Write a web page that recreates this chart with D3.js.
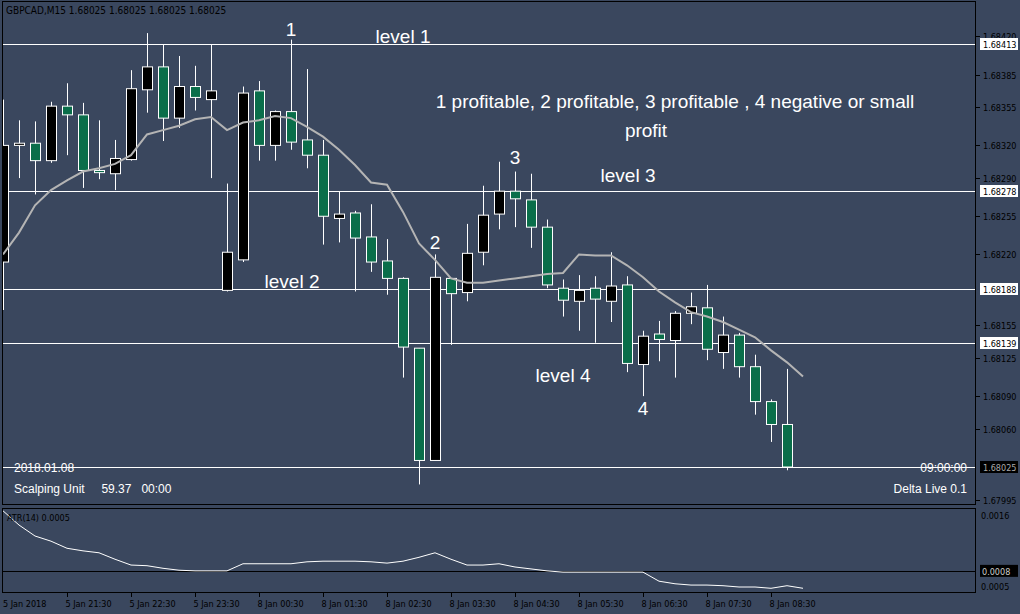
<!DOCTYPE html>
<html>
<head>
<meta charset="utf-8">
<script src="https://cdn.jsdelivr.net/npm/d3@7"></script>
<style>
body{margin:0;background:#3a475e;}
svg{display:block;}
</style>
</head>
<body>
<div id="chart"></div>
<script>
// prices in pipettes above 1.68000
var opens  = [213,320,322,306,356,348,297,294,307,371,392,345,374,362,187,215,370,320,351,325,311,253,258,236,214,198,134,31,198,185,222,257,278,270,245,189,177,189,177,192,119,147,141,166,171,130,146,117,85,64];
var highs  = [362,343,342,360,377,359,343,325,389,423,413,402,393,413,285,374,379,352,417,390,325,278,260,266,234,199,134,220,198,248,283,305,296,294,252,197,201,200,222,200,150,159,168,185,192,163,148,128,87,115];
var lows   = [169,290,275,304,311,281,289,279,306,350,324,336,352,290,186,213,306,306,316,299,229,231,186,204,183,107,9,31,137,177,210,243,245,226,189,163,150,139,158,112,90,122,107,156,123,115,107,73,48,22];
var closes = [320,322,306,356,348,297,295,308,372,392,345,374,364,370,222,368,320,351,323,311,255,257,235,213,198,135,31,199,184,221,256,278,271,245,192,178,187,179,191,120,145,142,166,172,133,146,117,85,64,25];
// moving average, shifted one bar to the right
var maVals = [220,240,265,279,288,296,299,303,311,330,334,338,344,346,334,341,343,347,345,337,328,316,302,286,284,259,230,215,198,194,194,196,198,200,202,203,220,219,219,210,199,186,176,167,163,158,151,144,132,121,108];
// ATR(14) in 1e-5
var atrVals = [168,146,129,121,110,106,103,93,84,83,79,76,75,75,75,86,86,86,86,89,90,90,90,89,87,90,96,103,93,84,84,86,81,78,75,73,73,73,73,73,73,59,55,53,53,52,50,50,48,52,48];
var levels = [1.68413,1.68278,1.68188,1.68139];
var lastPrice = 1.68025;
var priceTicks = [1.68420,1.68385,1.68355,1.68320,1.68290,1.68255,1.68220,1.68155,1.68125,1.68090,1.68060,1.67995];
var timeTickIdx = [4,8,12,16,20,24,28,32,36,40,44,48];
var timeTickLabels = ["5 Jan 21:30","5 Jan 22:30","5 Jan 23:30","8 Jan 00:30","8 Jan 01:30","8 Jan 02:30","8 Jan 03:30","8 Jan 04:30","8 Jan 05:30","8 Jan 06:30","8 Jan 07:30","8 Jan 08:30"];

var P = function(v){ return 1.68 + v/100000; };
var W = 1020, H = 614;
var svg = d3.select("#chart").append("svg").attr("width",W).attr("height",H);
svg.append("rect").attr("width",W).attr("height",H).attr("fill","#3a475e");

var x = d3.scaleLinear().domain([0,50]).range([3,803]);
var y = d3.scaleLinear().domain([1.68413,1.68025]).range([44,467]);
var ya = d3.scaleLinear().domain([0.0016,0.0005]).range([516,587]);

var main = svg.append("g");
main.append("defs").append("clipPath").attr("id","clipm")
  .append("rect").attr("x",3).attr("y",2).attr("width",973).attr("height",502);
var plot = main.append("g").attr("clip-path","url(#clipm)");

// level lines
levels.concat([lastPrice]).forEach(function(l){
  plot.append("line").attr("x1",2).attr("x2",976)
    .attr("y1",Math.round(y(l))+0.5).attr("y2",Math.round(y(l))+0.5)
    .attr("stroke","#fff").attr("stroke-width",1);
});

// candles
var idx = d3.range(opens.length);
plot.selectAll("line.wick").data(idx).enter().append("line")
  .attr("x1",function(i){return Math.round(x(i))+0.5;})
  .attr("x2",function(i){return Math.round(x(i))+0.5;})
  .attr("y1",function(i){return y(P(highs[i]));})
  .attr("y2",function(i){return y(P(lows[i]));})
  .attr("stroke","#fff");
plot.selectAll("rect.body").data(idx).enter().append("rect")
  .attr("x",function(i){return Math.round(x(i))-4.5;})
  .attr("width",10)
  .attr("y",function(i){return y(P(Math.max(opens[i],closes[i])));})
  .attr("height",function(i){return Math.max(2,Math.abs(y(P(opens[i]))-y(P(closes[i]))));})
  .attr("fill",function(i){return closes[i]>=opens[i]?"#000":"#0a6e4a";})
  .attr("stroke","#fff").attr("stroke-width",1);

// MA
plot.append("path").datum(maVals)
  .attr("d",d3.line().x(function(d,i){return x(i);}).y(function(d){return y(P(d));}))
  .attr("fill","none").attr("stroke","#b4b4b4").attr("stroke-width",2);

// frames
svg.append("rect").attr("x",2.5).attr("y",1.5).attr("width",973).attr("height",503)
  .attr("fill","none").attr("stroke","#000");
svg.append("rect").attr("x",2.5).attr("y",508.5).attr("width",973).attr("height",84)
  .attr("fill","none").attr("stroke","#000");

// price axis
priceTicks.forEach(function(t){
  var yy = Math.round(y(t))+0.5;
  svg.append("line").attr("x1",976).attr("x2",980).attr("y1",yy).attr("y2",yy).attr("stroke","#000");
  svg.append("text").attr("x",983).attr("y",yy+3).attr("font-family","DejaVu Sans Condensed, DejaVu Sans")
    .attr("font-size","9px").attr("fill","#000").text(t.toFixed(5));
});
levels.forEach(function(l){
  var yy = Math.round(y(l));
  svg.append("rect").attr("x",980).attr("y",yy-6).attr("width",38).attr("height",12).attr("fill","#fff");
  svg.append("text").attr("x",983).attr("y",yy+4).attr("font-family","DejaVu Sans Condensed, DejaVu Sans")
    .attr("font-size","9px").attr("fill","#000").text(l.toFixed(5));
});
var ly = Math.round(y(lastPrice));
svg.append("rect").attr("x",980).attr("y",ly-6).attr("width",38).attr("height",12).attr("fill","#000");
svg.append("text").attr("x",983).attr("y",ly+4).attr("font-family","DejaVu Sans Condensed, DejaVu Sans")
  .attr("font-size","9px").attr("fill","#aaa").text(lastPrice.toFixed(5));

// ATR panel
var atrLevel = 0.00075;
svg.append("line").attr("x1",2).attr("x2",976).attr("y1",Math.round(ya(atrLevel))+0.5).attr("y2",Math.round(ya(atrLevel))+0.5).attr("stroke","#000");
svg.append("path").datum(atrVals)
  .attr("d",d3.line().x(function(d,i){return x(i);}).y(function(d){return ya(d/100000);}))
  .attr("fill","none").attr("stroke","#fff").attr("stroke-width",1);
svg.append("text").attr("x",7).attr("y",521).attr("font-family","DejaVu Sans Condensed, DejaVu Sans")
  .attr("font-size","9px").attr("fill","#000").text("ATR(14) 0.0005");
[[0.0016,"0.0016"],[0.0005,"0.0005"]].forEach(function(t){
  svg.append("text").attr("x",981).attr("y",ya(t[0])+3).attr("font-family","DejaVu Sans Condensed, DejaVu Sans")
    .attr("font-size","9px").attr("fill","#000").text(t[1]);
});
svg.append("rect").attr("x",980).attr("y",ya(atrLevel)-6).attr("width",38).attr("height",12).attr("fill","#000");
svg.append("text").attr("x",982).attr("y",ya(atrLevel)+4).attr("font-family","DejaVu Sans Condensed, DejaVu Sans")
  .attr("font-size","9px").attr("fill","#ccc").text("0.0008");

// time axis
svg.append("text").attr("x",3).attr("y",607).attr("font-family","DejaVu Sans Condensed, DejaVu Sans")
  .attr("font-size","9px").attr("fill","#000").text("5 Jan 2018");
timeTickIdx.forEach(function(i,k){
  var xx = Math.round(x(i))+0.5;
  svg.append("line").attr("x1",xx).attr("x2",xx).attr("y1",593).attr("y2",597).attr("stroke","#000");
  svg.append("text").attr("x",xx-2).attr("y",607).attr("font-family","DejaVu Sans Condensed, DejaVu Sans")
    .attr("font-size","9px").attr("fill","#000").text(timeTickLabels[k]);
});

// title
svg.append("text").attr("x",6).attr("y",14).attr("font-family","DejaVu Sans Condensed, DejaVu Sans")
  .attr("font-size","10px").attr("fill","#000").text("GBPCAD,M15  1.68025 1.68025 1.68025 1.68025");

// annotations
var notes = [
  ["1",291,36,"middle"],["level 1",403,43,"middle"],
  ["1 profitable, 2 profitable, 3 profitable , 4 negative or small",675,108,"middle"],
  ["profit",646,137,"middle"],["3",515,164,"middle"],["level 3",628,182,"middle"],
  ["2",435,249,"middle"],["level 2",292,288,"middle"],["level 4",563,382,"middle"],["4",643,415,"middle"]
];
notes.forEach(function(n){
  svg.append("text").attr("x",n[1]).attr("y",n[2]).attr("text-anchor",n[3])
    .attr("font-family","Liberation Sans, Arial").attr("font-size","19px").attr("fill","#fff").text(n[0]);
});
var info = [
  ["2018.01.08",14,472,"start"],["09:00:00",967,472,"end"],
  ["Scalping Unit     59.37   00:00",14,493,"start"],["Delta Live 0.1",967,493,"end"]
];
info.forEach(function(n){
  svg.append("text").attr("x",n[1]).attr("y",n[2]).attr("text-anchor",n[3]).attr("xml:space","preserve")
    .attr("font-family","Liberation Sans, Arial").attr("font-size","12px").attr("fill","#fff").text(n[0]);
});
</script>
</body>
</html>
